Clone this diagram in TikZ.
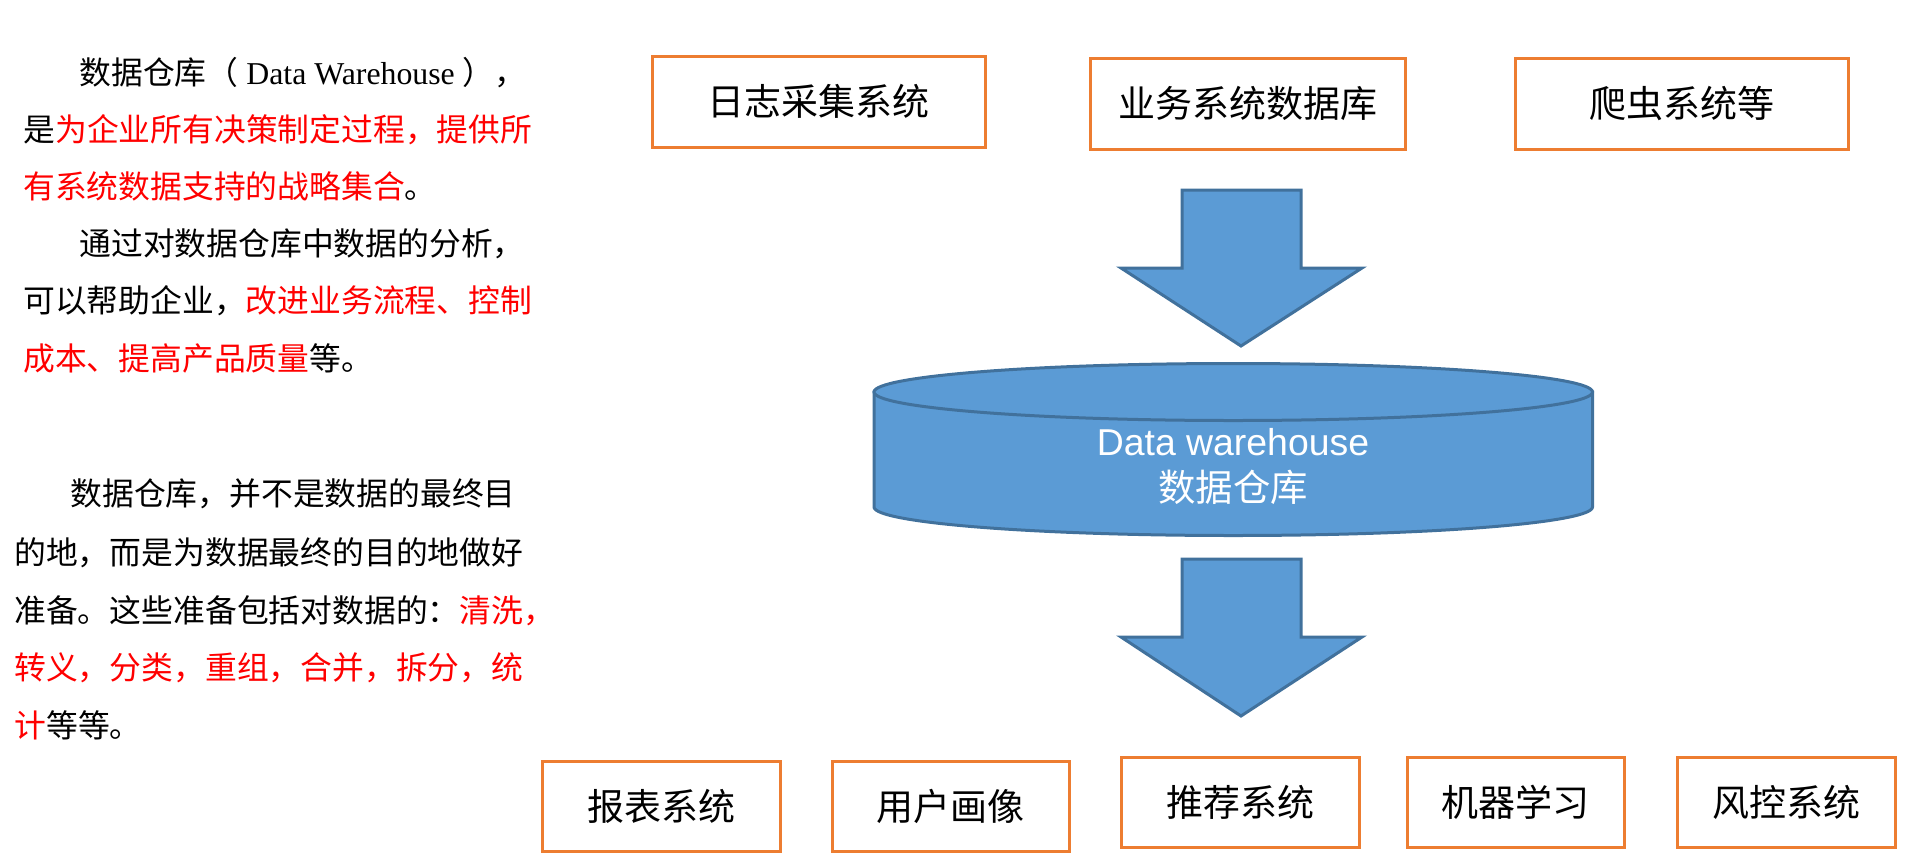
\documentclass[tikz,border=0pt]{standalone}
\usepackage{fontspec}
\setmainfont{Liberation Serif}
\newfontfamily\cjk{Noto Sans CJK SC}
\newfontfamily\tnr{Liberation Serif}
\newfontfamily\arialf{Liberation Sans}
\definecolor{boxorange}{HTML}{ED7D31}
\definecolor{dwblue}{HTML}{5B9BD5}
\definecolor{dwedge}{HTML}{41719C}
\definecolor{hired}{HTML}{FF0000}
\newcommand{\hl}[1]{\textcolor{hired}{#1}}
\begin{document}
\begin{tikzpicture}[x=0.5pt,y=-0.5pt,
  sysbox/.style={draw=boxorange, line width=1.5pt, inner sep=0pt,
    font=\cjk\fontsize{18.5}{20}\selectfont},
  para/.style={anchor=base west, inner sep=0pt,
    font=\fontsize{15.9}{18}\selectfont\cjk},
  blockarrow/.style={fill=dwblue, draw=dwedge, line width=1.5pt, line join=miter},
  dwtext/.style={inner sep=0pt, anchor=base, text=white},
]
\useasboundingbox (0,0) rectangle (1905,863);

% left text, paragraph 1
\node[para] (p1a) at (79,84) {数据仓库（{\tnr\ Data Warehouse\ }），};
\node[para] (p1b) at (23,141.2) {是\hl{为企业所有决策制定过程，提供所}};
\node[para] (p1c) at (23,198.4) {\hl{有系统数据支持的战略集合}。};
\node[para] (p1d) at (79,255.6) {通过对数据仓库中数据的分析，};
\node[para] (p1e) at (23,312.8) {可以帮助企业，\hl{改进业务流程、控制}};
\node[para] (p1f) at (23,370) {\hl{成本、提高产品质量}等。};

% left text, paragraph 2
\node[para] (p2a) at (70,505) {数据仓库，并不是数据的最终目};
\node[para] (p2b) at (14,564) {的地，而是为数据最终的目的地做好};
\node[para] (p2c) at (14,622) {准备。这些准备包括对数据的：\hl{清洗，}};
\node[para] (p2d) at (14,679) {\hl{转义，分类，重组，合并，拆分，统}};
\node[para] (p2e) at (14,737) {\hl{计}等等。};

% source systems
\node[sysbox, minimum width=166.5pt, minimum height=45.5pt] (src1) at (818.5,101.5) {日志采集系统};
\node[sysbox, minimum width=157.5pt, minimum height=45.5pt] (src2) at (1247.5,103.5) {业务系统数据库};
\node[sysbox, minimum width=166.5pt, minimum height=45.5pt] (src3) at (1681.5,103.5) {爬虫系统等};

% block arrow in
\draw[blockarrow] (1182,190) -- (1301,190) -- (1301,268) -- (1362,268) -- (1241,346)
  -- (1121,268) -- (1182,268) -- cycle;

% cylinder
\draw[blockarrow] (874,392) -- (874,507)
  -- plot[domain=180:360, samples=80, smooth] ({1233.25+359.25*cos(\x)},{507-28.5*sin(\x)})
  -- (1592.5,392) -- cycle;
\draw[blockarrow] (1233.25,392) ellipse [x radius=359.25, y radius=28.5];
\node[dwtext, font=\arialf\fontsize{18.7}{20}\selectfont] (dwA) at (1233,455) {Data warehouse};
\node[dwtext, font=\cjk\fontsize{18.7}{20}\selectfont] (dwB) at (1233,501) {数据仓库};

% block arrow out
\draw[blockarrow] (1182,559) -- (1301,559) -- (1301,637) -- (1362,637) -- (1241,716)
  -- (1121,637) -- (1182,637) -- cycle;

% consumer systems
\node[sysbox, minimum width=119pt, minimum height=45pt] (out1) at (661,806) {报表系统};
\node[sysbox, minimum width=118.5pt, minimum height=45pt] (out2) at (950.5,806) {用户画像};
\node[sysbox, minimum width=119pt, minimum height=45pt] (out3) at (1240,802) {推荐系统};
\node[sysbox, minimum width=108.5pt, minimum height=45pt] (out4) at (1515.5,802) {机器学习};
\node[sysbox, minimum width=109pt, minimum height=45pt] (out5) at (1786,802) {风控系统};
\end{tikzpicture}
\end{document}
